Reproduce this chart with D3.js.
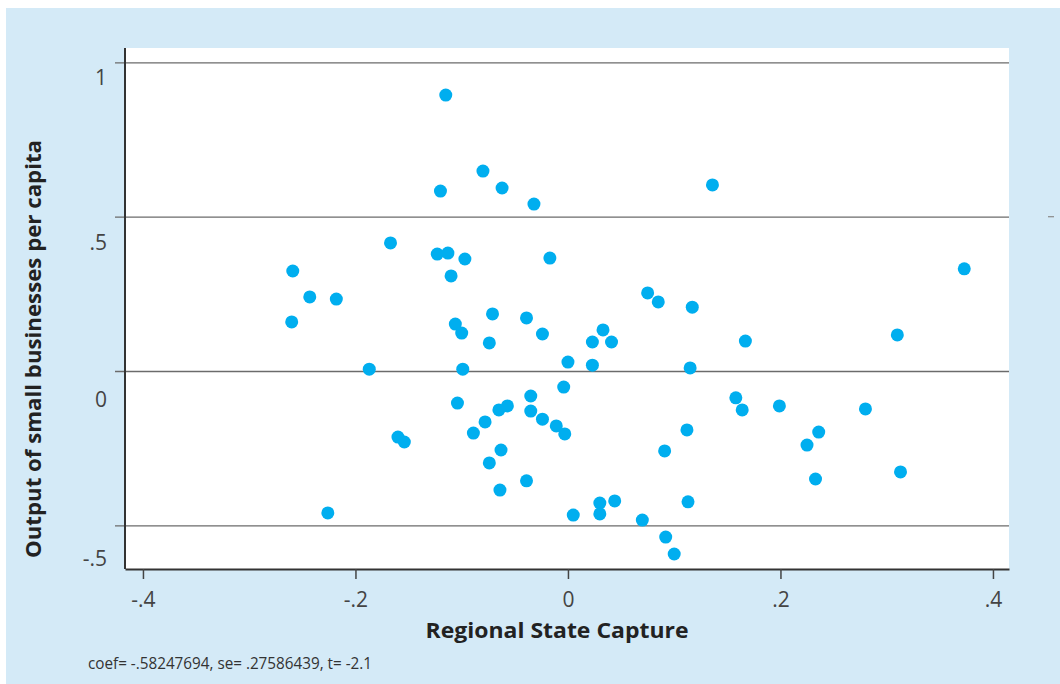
<!DOCTYPE html>
<html>
<head>
<meta charset="utf-8">
<script src="https://cdn.jsdelivr.net/npm/d3@7"></script>
<style>
  html, body { margin: 0; padding: 0; background: #ffffff; }
  svg { display: block; }
</style>
</head>
<body>
<script>
// Regional state capture vs. output of small businesses per capita (partial regression plot)
const stateCapture = [
  -0.115, -0.080, -0.120, -0.062, -0.032, 0.136, -0.167, -0.123, -0.113, -0.097,
  -0.110, -0.017, -0.259, -0.243, -0.218, -0.260, 0.075, 0.085, 0.117, 0.373,
  -0.071, -0.039, -0.106, -0.100, -0.074, -0.024, 0.033, 0.023, 0.041, 0.167,
  0.310, 0.000, 0.023, -0.187, -0.099, 0.115, -0.004, -0.035, -0.104, 0.158,
  0.164, 0.199, 0.280, -0.057, -0.065, -0.035, -0.024, -0.011, -0.003, -0.078,
  -0.089, -0.160, -0.154, 0.112, 0.236, 0.225, 0.091, -0.063, -0.074, -0.039,
  -0.064, 0.233, 0.313, -0.226, 0.005, 0.030, 0.030, 0.044, 0.113, 0.070,
  0.092, 0.100
];
const smallBizOutput = [
  0.894, 0.648, 0.583, 0.593, 0.541, 0.603, 0.415, 0.379, 0.382, 0.363,
  0.308, 0.366, 0.324, 0.240, 0.233, 0.159, 0.253, 0.224, 0.207, 0.331,
  0.185, 0.172, 0.152, 0.123, 0.091, 0.120, 0.133, 0.094, 0.094, 0.097,
  0.117, 0.029, 0.019, 0.006, 0.006, 0.010, -0.052, -0.081, -0.104, -0.087,
  -0.126, -0.113, -0.123, -0.113, -0.126, -0.130, -0.156, -0.178, -0.204, -0.165,
  -0.201, -0.214, -0.230, -0.191, -0.198, -0.240, -0.259, -0.256, -0.298, -0.356,
  -0.386, -0.350, -0.327, -0.460, -0.467, -0.428, -0.463, -0.421, -0.424, -0.483,
  -0.538, -0.593
];
const xTicks = [-0.4, -0.2, 0, 0.2, 0.4];
const xTickLabels = ["-.4", "-.2", "0", ".2", ".4"];
const yTicks = [-0.5, 0, 0.5, 1];
const yTickLabels = ["-.5", "0", ".5", "1"];
const xTitle = "Regional State Capture";
const yTitle = "Output of small businesses per capita";
const note = "coef= -.58247694, se= .27586439, t= -2.1";

const W = 1060, H = 684;
const plot = { left: 125, right: 1009, top: 48, bottom: 569 };
const FONT = "'Open Sans', 'DejaVu Sans', sans-serif";

const svg = d3.select("body").append("svg").attr("width", W).attr("height", H);

// outer panel
svg.append("rect").attr("x", 6).attr("y", 8).attr("width", W - 6).attr("height", H - 8)
  .attr("fill", "#d4eaf7");
// plot region
svg.append("rect").attr("x", plot.left).attr("y", plot.top)
  .attr("width", plot.right - plot.left).attr("height", plot.bottom - plot.top)
  .attr("fill", "#ffffff");

const x = d3.scaleLinear().domain([-0.4169, 0.4151]).range([plot.left, plot.right]);
const y = d3.scaleLinear().domain([-0.6416, 1.0467]).range([plot.bottom, plot.top]);

// horizontal grid lines with short outer ticks
const yAxis = d3.axisLeft(y)
  .tickValues(yTicks)
  .tickSizeInner(-(plot.right - plot.left))
  .tickSizeOuter(0)
  .tickFormat((d, i) => yTickLabels[i]);
const gy = svg.append("g").attr("transform", `translate(${plot.left},0)`).call(yAxis);
gy.select(".domain").remove();
gy.selectAll(".tick line")
  .attr("x1", -10)
  .attr("stroke", "#6b6b6b").attr("stroke-width", 1.3);
const yLabelShift = { "-0.5": 33, "0": 28, "0.5": 26, "1": 15 };
gy.selectAll(".tick text")
  .attr("x", -18)
  .attr("dy", d => (yLabelShift[String(d)] + 7) + "px")
  .attr("fill", "#444444")
  .style("font-family", FONT)
  .style("font-weight", 400)
  .style("font-size", "21px");

// stray tick on the right edge
svg.append("line")
  .attr("x1", 1048).attr("x2", 1054)
  .attr("y1", y(0.5)).attr("y2", y(0.5))
  .attr("stroke", "#8a8a8a").attr("stroke-width", 1.2);

// left axis line
svg.append("line")
  .attr("x1", plot.left).attr("x2", plot.left)
  .attr("y1", plot.top).attr("y2", plot.bottom)
  .attr("stroke", "#333333").attr("stroke-width", 2);

// bottom axis
const xAxis = d3.axisBottom(x)
  .tickValues(xTicks)
  .tickSizeInner(10)
  .tickSizeOuter(0)
  .tickFormat((d, i) => xTickLabels[i]);
const gx = svg.append("g").attr("transform", `translate(0,${plot.bottom})`).call(xAxis);
gx.select(".domain").attr("stroke", "#333333").attr("stroke-width", 2);
gx.selectAll(".tick line").attr("stroke", "#444444").attr("stroke-width", 1.5);
gx.selectAll(".tick text")
  .attr("y", 23)
  .attr("fill", "#444444")
  .style("font-family", FONT)
  .style("font-weight", 400)
  .style("font-size", "21px");

// points
svg.append("g").selectAll("circle")
  .data(stateCapture.map((v, i) => [v, smallBizOutput[i]]))
  .join("circle")
  .attr("cx", d => x(d[0]))
  .attr("cy", d => y(d[1]))
  .attr("r", 6.5)
  .attr("fill", "#00aeef");

// axis titles
svg.append("text")
  .attr("x", 557).attr("y", 638)
  .attr("text-anchor", "middle")
  .attr("fill", "#222222")
  .attr("textLength", 263)
  .attr("lengthAdjust", "spacingAndGlyphs")
  .style("font-family", FONT)
  .style("font-weight", 700)
  .style("font-size", "22px")
  .text(xTitle);

svg.append("text")
  .attr("transform", "translate(41,349) rotate(-90)")
  .attr("text-anchor", "middle")
  .attr("fill", "#222222")
  .attr("textLength", 418)
  .attr("lengthAdjust", "spacingAndGlyphs")
  .style("font-family", FONT)
  .style("font-weight", 700)
  .style("font-size", "22px")
  .text(yTitle);

// regression note
svg.append("text")
  .attr("x", 88).attr("y", 669)
  .attr("fill", "#333333")
  .attr("textLength", 284)
  .attr("lengthAdjust", "spacingAndGlyphs")
  .style("font-family", FONT)
  .style("font-weight", 400)
  .style("font-size", "16px")
  .text(note);
</script>
</body>
</html>
